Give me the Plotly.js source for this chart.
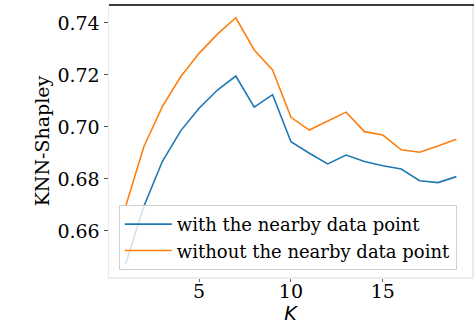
<!DOCTYPE html>
<html>
<head>
<meta charset="utf-8">
<script src="https://cdn.plot.ly/plotly-3.0.1.min.js"></script>
<style>
  html, body { margin: 0; padding: 0; background: #fff; }
  #chart { width: 474px; height: 324px; }
</style>
</head>
<body>
<div id="chart"></div>
<script>
// K values on the x axis
var kValues = [1, 2, 3, 4, 5, 6, 7, 8, 9, 10, 11, 12, 13, 14, 15, 16, 17, 18, 19];

// KNN-Shapley value
var withPoint = [0.6472, 0.6695, 0.6867, 0.6985, 0.7072, 0.7142, 0.7196, 0.7076, 0.7124,
                 0.6943, 0.6899, 0.6858, 0.6892, 0.6867, 0.6851, 0.6838, 0.6793, 0.6786, 0.6809];
var withoutPoint = [0.6693, 0.6925, 0.7078, 0.7193, 0.7283, 0.7357, 0.7420, 0.7296, 0.7219,
                    0.7037, 0.6988, 0.7023, 0.7057, 0.6982, 0.6969, 0.6912, 0.6903, 0.6927, 0.6953];

var seriesNames = ['with the nearby data point', 'without the nearby data point'];

var trace1 = {
  x: kValues,
  y: withPoint,
  name: seriesNames[0],
  type: 'scatter',
  mode: 'lines',
  line: {color: '#1f77b4', width: 1.6}
};
var trace2 = {
  x: kValues,
  y: withoutPoint,
  name: seriesNames[1],
  type: 'scatter',
  mode: 'lines',
  line: {color: '#ff7f0e', width: 1.6}
};

var serif = 'DejaVu Serif, serif';

var layout = {
  width: 474,
  height: 324,
  margin: {l: 109, r: 2, t: 5, b: 47},
  paper_bgcolor: '#ffffff',
  plot_bgcolor: '#ffffff',
  font: {family: serif, size: 19, color: '#000'},
  showlegend: true,
  legend: {
    x: 0.027, y: 0.026, xanchor: 'left', yanchor: 'bottom',
    itemwidth: 47,
    bgcolor: 'rgba(255,255,255,0.8)',
    bordercolor: '#d0d0d0', borderwidth: 1,
    font: {family: serif, size: 18, color: '#000'}
  },
  xaxis: {
    range: [0.1, 19.85],
    tick0: 0, dtick: 5,
    showgrid: false, zeroline: false,
    showline: true, linecolor: '#ebebeb', linewidth: 1.5, mirror: true,
    ticks: 'outside', ticklen: 3, tickcolor: '#666',
    ticklabelposition: 'outside',
    ticklabelstandoff: -6,
    tickfont: {family: serif, size: 19},
    title: {text: '<i>K</i>', font: {family: 'DejaVu Sans, sans-serif', size: 19}, standoff: 12}
  },
  yaxis: {
    range: [0.6423, 0.7469],
    tick0: 0.66, dtick: 0.02,
    tickformat: '.2f',
    showgrid: false, zeroline: false,
    showline: true, linecolor: '#ebebeb', linewidth: 1.5, mirror: true,
    ticks: 'outside', ticklen: 4, tickcolor: '#555',
    tickfont: {family: serif, size: 19},
    title: {text: 'KNN-Shapley', font: {family: serif, size: 19}, standoff: 2}
  },
  shapes: [
    // dark top edge of the frame
    {type: 'line', xref: 'paper', yref: 'paper', x0: 0, x1: 1.01, y0: 1, y1: 1,
     line: {color: '#000', width: 1.5}}
  ]
};

Plotly.newPlot('chart', [trace1, trace2], layout, {displayModeBar: false, staticPlot: true});
</script>
</body>
</html>
